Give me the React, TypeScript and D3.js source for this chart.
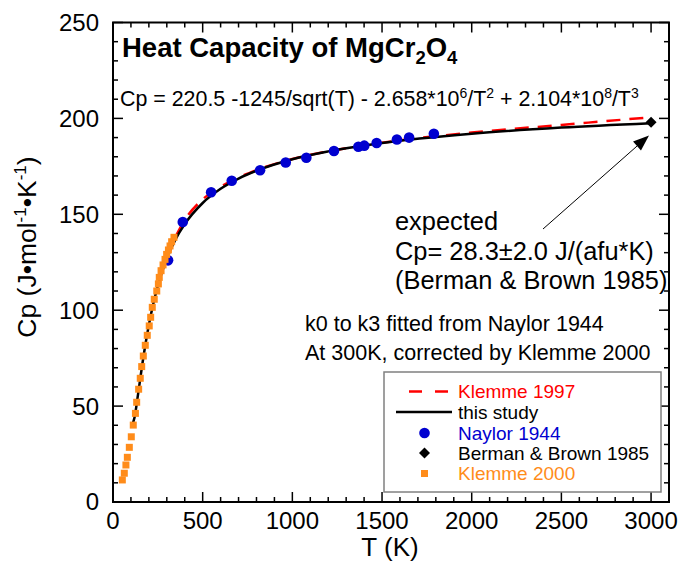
import React from 'react';
import * as d3 from 'd3';

// Naylor 1944 (blue circles)
const naylorT = [307, 389, 547, 662, 820, 963, 1078, 1232, 1368, 1401, 1470, 1583, 1651, 1789];
const naylorCp = [126, 146, 161.5, 167.5, 173, 177, 179.5, 183, 185.2, 185.8, 187.2, 189, 190, 192];

// Klemme 2000 (orange squares)
const klemme2000T = [52, 63, 72, 80, 91, 102, 113, 125, 132, 143, 152, 160, 169, 180, 191, 202, 210, 219, 230, 244, 253, 258, 268, 279, 290, 299, 309, 318, 327, 340];
const klemme2000Cp = [11.5, 15, 19.3, 23.3, 28.5, 34, 40.1, 46.2, 52, 58.8, 64.5, 70.6, 76.1, 81.7, 86.9, 91.8, 96.3, 101.5, 105.7, 110, 113.7, 117.1, 120.6, 123.6, 126.5, 129.1, 131.4, 133.5, 135.7, 138];

// Berman & Brown 1985 (diamond)
const bermanT = [3000];
const bermanCp = [198];

// this study (black line)
const fitT = [105, 120, 140, 160, 180, 200, 225, 250, 275, 300, 350, 400, 500, 600, 700, 800, 1000, 1200, 1500, 2000, 2500, 3000];
const fitCp = [39.7, 44, 56.4, 69.6, 81.7, 92.3, 103.5, 112.7, 120.4, 126.9, 137.2, 144.9, 155.9, 163.3, 168.6, 172.7, 178.7, 182.8, 187.2, 192, 195.2, 197.5];

// Klemme 1997 (red dashed)
const k1997T = [300, 400, 500, 600, 800, 1000, 1200, 1500, 2000, 2500, 3000];
const k1997Cp = [128.5, 147, 157.8, 164.3, 173, 178.8, 182.8, 187.3, 192.6, 196.6, 200.6];

const xTickLabels = [0, 500, 1000, 1500, 2000, 2500, 3000];
const yTickLabels = [0, 50, 100, 150, 200, 250];

const legendLabels = ['Klemme 1997', 'this study', 'Naylor 1944', 'Berman & Brown 1985', 'Klemme 2000'];

const FONT = 'Liberation Sans, Arial, sans-serif';
const BLUE = '#0000d0';
const RED = '#ff0000';
const ORANGE = '#ff8c1a';

const W = 678;
const H = 572;
const left = 113;
const right = 669;
const top = 22.5;
const bottom = 502;

const App = () => {
  const x = d3.scaleLinear().domain([0, 3100]).range([left, right]);
  const y = d3.scaleLinear().domain([0, 250]).range([bottom, top]);

  const line = d3
    .line<[number, number]>()
    .x((d) => x(d[0]))
    .y((d) => y(d[1]))
    .curve(d3.curveMonotoneX);

  const fitPath = line(fitT.map((t, i) => [t, fitCp[i]])) || '';
  const k1997Path = line(k1997T.map((t, i) => [t, k1997Cp[i]])) || '';

  const xMinor = d3.range(0, 3101, 100);
  const yMinor = d3.range(0, 251, 10);

  const diamond = (cx: number, cy: number, r: number) =>
    `M${cx},${cy - r}L${cx + r},${cy}L${cx},${cy + r}L${cx - r},${cy}Z`;

  // arrow from annotation to the Berman & Brown point
  const a0 = [543, 229];
  const a1 = [649, 135.5];
  const dx = a1[0] - a0[0];
  const dy = a1[1] - a0[1];
  const len = Math.sqrt(dx * dx + dy * dy);
  const ux = dx / len;
  const uy = dy / len;
  const hl = 16;
  const hw = 6;
  const bx = a1[0] - ux * hl;
  const by = a1[1] - uy * hl;
  const head = `M${a1[0]},${a1[1]}L${bx - uy * hw},${by + ux * hw}L${bx + uy * hw},${by - ux * hw}Z`;

  const legY = [391.5, 412, 433, 453, 473.5];
  const legTextX = 458;
  const legMarkX = 424.5;

  return (
    <svg
      width={W}
      height={H}
      style={{ position: 'absolute', left: 0, top: 0, background: '#fff' }}
      fontFamily={FONT}
    >
      <rect x={0} y={0} width={W} height={H} fill="#fff" />

      {/* curves */}
      <path d={k1997Path} fill="none" stroke={RED} strokeWidth={2.5} strokeDasharray="14,9" />
      <path d={fitPath} fill="none" stroke="#000" strokeWidth={2.5} />

      {/* Naylor */}
      {naylorT.map((t, i) => (
        <circle key={'n' + i} cx={x(t)} cy={y(naylorCp[i])} r={5.3} fill={BLUE} />
      ))}

      {/* Klemme 2000 */}
      {klemme2000T.map((t, i) => (
        <rect
          key={'k' + i}
          x={x(t) - 3.5}
          y={y(klemme2000Cp[i]) - 3.5}
          width={7}
          height={7}
          fill={ORANGE}
        />
      ))}

      {/* Berman & Brown */}
      {bermanT.map((t, i) => (
        <path key={'b' + i} d={diamond(x(t), y(bermanCp[i]), 5.5)} fill="#000" />
      ))}

      {/* frame & ticks */}
      <rect x={left} y={top} width={right - left} height={bottom - top} fill="none" stroke="#000" strokeWidth={2} />
      {xMinor.map((v) => {
        const len = v % 500 === 0 ? 10 : 5;
        return (
          <g key={'xt' + v} stroke="#000" strokeWidth={1.5}>
            <line x1={x(v)} x2={x(v)} y1={bottom} y2={bottom - len} />
            <line x1={x(v)} x2={x(v)} y1={top} y2={top + len} />
          </g>
        );
      })}
      {yMinor.map((v) => {
        const len = v % 50 === 0 ? 10 : 5;
        return (
          <g key={'yt' + v} stroke="#000" strokeWidth={1.5}>
            <line x1={left} x2={left + len} y1={y(v)} y2={y(v)} />
            <line x1={right} x2={right - len} y1={y(v)} y2={y(v)} />
          </g>
        );
      })}

      {xTickLabels.map((v) => (
        <text key={'xl' + v} x={x(v)} y={529} fontSize={24} textAnchor="middle">
          {v}
        </text>
      ))}
      {yTickLabels.map((v) => (
        <text key={'yl' + v} x={99} y={y(v)} dy="0.35em" fontSize={24} textAnchor="end">
          {v}
        </text>
      ))}

      {/* axis titles */}
      <text x={390} y={556} fontSize={26} textAnchor="middle">
        T (K)
      </text>
      <text transform="translate(36,247) rotate(-90)" fontSize={26.5} textAnchor="middle">
        Cp (J•mol<tspan dy={-10} fontSize={17}>-1</tspan>
        <tspan dy={10}>•K</tspan>
        <tspan dy={-10} fontSize={17}>-1</tspan>
        <tspan dy={10}>)</tspan>
      </text>

      {/* title and equation */}
      <text x={122} y={57} fontSize={27.5} fontWeight="bold">
        Heat Capacity of MgCr<tspan dy={7} fontSize={18.5}>2</tspan>
        <tspan dy={-7}>O</tspan>
        <tspan dy={7} fontSize={18.5}>4</tspan>
      </text>
      <text x={120} y={106} fontSize={21.4}>
        Cp = 220.5 -1245/sqrt(T) - 2.658*10<tspan dy={-8} fontSize={14}>6</tspan>
        <tspan dy={8}>/T</tspan>
        <tspan dy={-8} fontSize={14}>2</tspan>
        <tspan dy={8}> + 2.104*10</tspan>
        <tspan dy={-8} fontSize={14}>8</tspan>
        <tspan dy={8}>/T</tspan>
        <tspan dy={-8} fontSize={14}>3</tspan>
      </text>

      {/* annotation */}
      <line x1={a0[0]} y1={a0[1]} x2={bx} y2={by} stroke="#000" strokeWidth={1} />
      <path d={head} fill="#000" />
      <text x={395} y={230} fontSize={25.4}>expected</text>
      <text x={395} y={260} fontSize={25.4}>Cp= 28.3±2.0 J/(afu*K)</text>
      <text x={395} y={289} fontSize={25.4}>(Berman &amp; Brown 1985)</text>

      <text x={305} y={331} fontSize={21.5}>k0 to k3 fitted from Naylor 1944</text>
      <text x={305} y={360} fontSize={21.5}>At 300K, corrected by Klemme 2000</text>

      {/* legend */}
      <rect x={384} y={372} width={277} height={120} fill="#fff" stroke="#808080" strokeWidth={1.5} />
      <line x1={409} x2={449} y1={legY[0]} y2={legY[0]} stroke={RED} strokeWidth={2.5} strokeDasharray="13,13" />
      <line x1={396} x2={452} y1={legY[1]} y2={legY[1]} stroke="#000" strokeWidth={2.5} />
      <circle cx={legMarkX} cy={legY[2]} r={5.3} fill={BLUE} />
      <path d={diamond(legMarkX, legY[3], 5.5)} fill="#000" />
      <rect x={legMarkX - 3.5} y={legY[4] - 3.5} width={7} height={7} fill={ORANGE} />
      {legendLabels.map((s, i) => (
        <text
          key={s}
          x={legTextX}
          y={legY[i]}
          dy="0.35em"
          fontSize={19}
          fill={[RED, '#000', BLUE, '#000', ORANGE][i]}
        >
          {s}
        </text>
      ))}
    </svg>
  );
};

export default App;
